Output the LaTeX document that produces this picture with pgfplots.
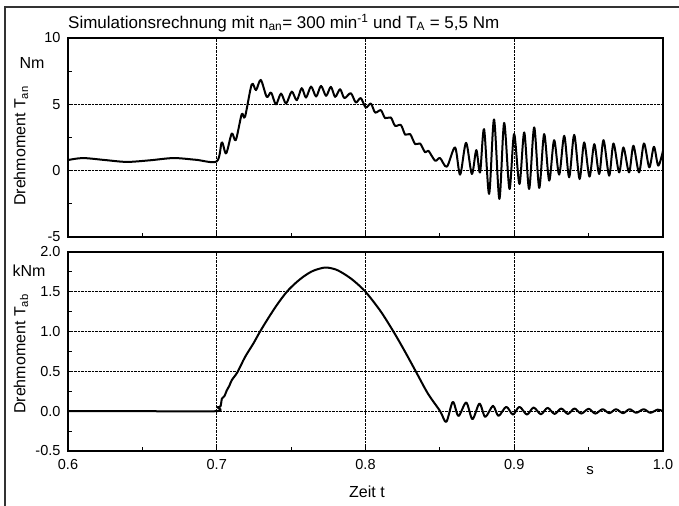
\documentclass[border=0pt]{standalone}
\usepackage{pgfplots}
\pgfplotsset{compat=1.18}
\usepackage{fontspec}
\setmainfont{Liberation Sans}

\pgfplotsset{
  panel/.style={
    scale only axis, width=595bp, height=199bp, anchor=south west,
    xmin=0.6, xmax=1.0,
    axis line style={line width=1.2bp},
    tick align=inside, xtick pos=bottom, ytick pos=left,
    major tick length=4bp, minor tick length=4bp,
    tick style={line width=0.8bp, black},
    grid=major, grid style={densely dotted, line width=0.6bp, black},
    minor xtick={0.65,0.75,0.85,0.95},
    tick label style={font=\fontsize{14.5bp}{17bp}\selectfont},
    xticklabel style={yshift=-5bp},
    yticklabel style={xshift=-4bp},
  },
  curve/.style={black, line width=2bp, smooth, no marks, line join=round},
}

\begin{document}
\begin{tikzpicture}
\useasboundingbox (0,0) rectangle (679bp,506bp);
\draw[line width=1.5bp, black!80] (5bp,0) -- (5bp,499bp) -- (679bp,499bp);

% upper panel: input torque T_an in Nm
\begin{axis}[panel, at={(68bp,269bp)},
    ymin=-5, ymax=10,
    xtick={0.7,0.8,0.9}, xticklabels={},
    ytick={-5,0,5,10}, yticklabels={-5,0,5,10},
    minor ytick={-2.5,2.5,7.5},
  ]
  \addplot[curve] coordinates {
    (0.6,0.8) (0.61,0.95) (0.625,0.8) (0.6395,0.66) (0.655,0.78) (0.671,0.95)
    (0.686,0.82) (0.7,0.7)
    (0.7034,2.13) (0.7063,1.3) (0.7101,2.8) (0.7128,2.3) (0.7168,4.26) (0.719,4.06)
    (0.7235,6.5) (0.7264,6.07) (0.7296,6.84) (0.7336,5.56) (0.7365,5.89) (0.7398,5.0)
    (0.7432,5.81) (0.7466,5.06) (0.7504,5.96) (0.7538,5.31) (0.7571,6.22) (0.76,5.51)
    (0.7634,6.34) (0.7668,5.59) (0.7701,6.39) (0.7735,5.64) (0.7767,6.32) (0.7796,5.56)
    (0.7829,6.14) (0.7858,5.47) (0.7901,5.84) (0.7935,5.14) (0.7968,5.47) (0.8002,4.76)
    (0.8036,5.06) (0.8065,4.38) (0.8103,4.56) (0.8132,3.96) (0.817,4.01) (0.8199,3.38)
    (0.8238,3.44) (0.8267,2.71) (0.83,2.76) (0.8334,2.0) (0.8367,2.05) (0.8401,1.38)
    (0.8423,1.5) (0.8468,0.75) (0.8501,0.95) (0.8547,0.3)
    (0.8602,1.75) (0.8636,-0.3) (0.8676,2.1) (0.8715,-0.25) (0.8745,1.55) (0.877,-0.13)
    (0.8797,3.13) (0.8831,-1.75) (0.8864,3.86) (0.89,-2.13) (0.8932,3.6) (0.8968,-1.38)
    (0.8999,2.76) (0.9035,-1.0) (0.9067,2.88) (0.91,-1.38) (0.9134,3.26) (0.9168,-1.3)
    (0.9201,2.76) (0.9235,-0.75) (0.9268,2.3) (0.9302,-0.3) (0.9336,2.63) (0.9369,-0.5)
    (0.9403,2.7) (0.9439,-0.63) (0.947,2.13) (0.9506,-0.45) (0.9538,2.0) (0.9571,-0.25)
    (0.96,2.3) (0.9638,-0.38) (0.9667,2.05) (0.9705,-0.13) (0.9734,1.75) (0.9772,-0.13)
    (0.9801,1.88) (0.9839,-0.13) (0.9872,2.05) (0.9908,0.25) (0.9939,1.8) (0.9968,0.38)
    (1.0,1.5)
  };
\end{axis}

% lower panel: output torque T_ab in kNm
\begin{axis}[panel, at={(68bp,55bp)},
    ymin=-0.5, ymax=2.0,
    xtick={0.6,0.7,0.8,0.9,1.0}, xticklabels={0.6,0.7,0.8,0.9,1.0},
    ytick={-0.5,0,0.5,1.0,1.5,2.0}, yticklabels={-0.5,0.0,0.5,1.0,1.5,2.0},
    minor ytick={-0.25,0.25,0.75,1.25,1.75},
  ]
  \addplot[curve] coordinates {
    (0.6,0) (0.65,0) (0.6995,0) (0.7005,0.05) (0.7025,0.06) (0.7035,0.16)
    (0.7052,0.19) (0.7067,0.26) (0.7085,0.32) (0.7101,0.39) (0.7139,0.49)
    (0.719,0.68) (0.7246,0.85) (0.7291,1.0) (0.735,1.18) (0.741,1.35) (0.7471,1.5)
    (0.753,1.61) (0.759,1.7) (0.765,1.765) (0.7729,1.805) (0.78,1.78) (0.786,1.72)
    (0.792,1.64) (0.8,1.5) (0.81,1.26) (0.8188,1.0) (0.8265,0.75) (0.8341,0.49)
    (0.842,0.22) (0.8502,0.0) (0.8543,-0.134)
    (0.8587,0.117) (0.8625,-0.06) (0.8677,0.109) (0.8719,-0.1) (0.8766,0.096)
    (0.8805,-0.071) (0.8857,0.067) (0.8894,-0.059) (0.8946,0.055) (0.8991,-0.042)
    (0.9035,0.055) (0.9085,-0.042) (0.913,0.046) (0.9179,-0.038) (0.9224,0.042)
    (0.9271,-0.034) (0.9316,0.034) (0.9361,-0.034) (0.9405,0.034) (0.945,-0.03)
    (0.95,0.03) (0.9545,-0.03) (0.9594,0.025) (0.9639,-0.025) (0.9684,0.025)
    (0.9731,-0.025) (0.9775,0.025) (0.982,-0.02) (0.987,0.025) (0.9915,-0.02)
    (0.9964,0.02) (1.0,0.0)
  };
\end{axis}

% texts
\node[anchor=base west, inner sep=0, font=\fontsize{17bp}{20bp}\selectfont]
  at (68bp,477.7bp) {Simulationsrechnung mit n\textsubscript{an}= 300 min\textsuperscript{-1} und T\textsubscript{A} = 5,5 Nm};
\node[rotate=90, font=\fontsize{16bp}{19bp}\selectfont] at (21bp,360bp) {Drehmoment T\textsubscript{an}};
\node[rotate=90, font=\fontsize{16bp}{19bp}\selectfont] at (21bp,152bp) {Drehmoment T\textsubscript{ab}};
\node[font=\fontsize{16bp}{19bp}\selectfont] at (32bp,442.5bp) {Nm};
\node[font=\fontsize{16bp}{19bp}\selectfont] at (29bp,235.5bp) {kNm};
\node[font=\fontsize{15bp}{18bp}\selectfont] at (590bp,35bp) {s};
\node[font=\fontsize{16bp}{19bp}\selectfont] at (367bp,14bp) {Zeit t};
\end{tikzpicture}
\end{document}
